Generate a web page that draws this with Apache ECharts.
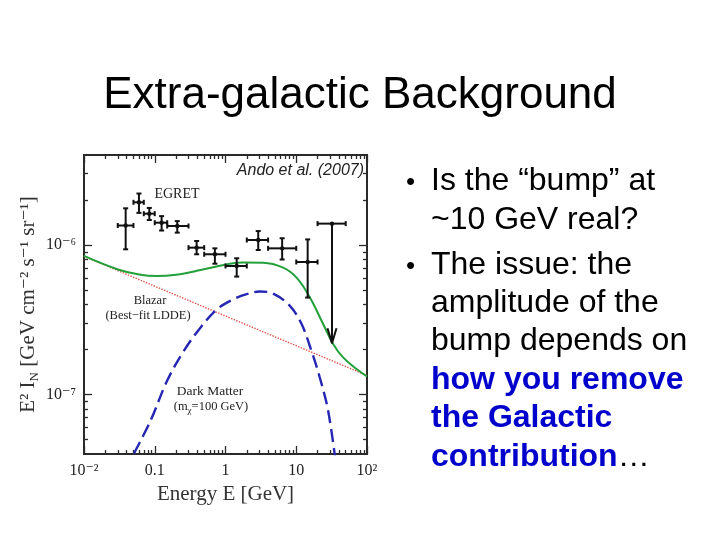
<!DOCTYPE html>
<html>
<head>
<meta charset="utf-8">
<script src="https://cdn.jsdelivr.net/npm/echarts@6/dist/echarts.min.js"></script>
<style>html,body{margin:0;padding:0;background:#fff}#c{width:720px;height:540px}</style>
</head>
<body>
<div id="c"></div>
<script>
// ---- data ----
const xMajorTicks = [0.01, 0.1, 1, 10, 100];
const xMinorTicks = [0.02,0.03,0.04,0.05,0.06,0.07,0.08,0.09,0.2,0.3,0.4,0.5,0.6,0.7,0.8,0.9,2,3,4,5,6,7,8,9,20,30,40,50,60,70,80,90];
const xTickLabels = ['10⁻²', '0.1', '1', '10', '10²'];
const yMajorTicks = [1e-7, 1e-6];
const yMinorTicks = [5e-8,6e-8,7e-8,8e-8,9e-8,2e-7,3e-7,4e-7,5e-7,6e-7,7e-7,8e-7,9e-7,2e-6,3e-6];
const yTickLabels = ['10⁻⁷', '10⁻⁶'];

// EGRET points
const egretElo = [0.03, 0.05, 0.07, 0.1, 0.15, 0.3, 0.5, 1, 2, 4, 10];
const egretEhi = [0.05, 0.07, 0.1, 0.15, 0.3, 0.5, 1, 2, 4, 10, 20];
const egretE   = [0.0388, 0.0598, 0.0838, 0.125, 0.208, 0.391, 0.708, 1.44, 2.9, 6.32, 14.5];
const egretF   = [1.35e-6, 1.93e-6, 1.62e-6, 1.41e-6, 1.34e-6, 0.96e-6, 0.867e-6, 0.724e-6, 1.08e-6, 0.95e-6, 0.77e-6];
const egretFlo = [0.936e-6, 1.64e-6, 1.47e-6, 1.25e-6, 1.21e-6, 0.867e-6, 0.75e-6, 0.615e-6, 0.926e-6, 0.80e-6, 0.445e-6];
const egretFhi = [1.76e-6, 2.21e-6, 1.77e-6, 1.56e-6, 1.445e-6, 1.064e-6, 0.95e-6, 0.815e-6, 1.24e-6, 1.11e-6, 1.09e-6];
// upper limit: [Elo, Ehi, E, F, arrowTip]
const ulimit = [20, 50, 32, 1.39e-6, 2.2e-7];

// total (green)
const totalE = [0.01, 0.0295, 0.06, 0.108, 0.2, 0.445, 1.15, 1.82, 3.41, 6.53, 10.1, 15.6, 24.0, 33.2, 45.9, 71.1, 100];
const totalF = [8.45e-7, 6.89e-7, 6.35e-7, 6.2e-7, 6.33e-7, 6.8e-7, 7.5e-7, 7.64e-7, 7.62e-7, 7.06e-7, 6.05e-7, 4.46e-7, 2.96e-7, 2.18e-7, 1.77e-7, 1.48e-7, 1.32e-7];
// blazar (red dotted)
const blazarE = [0.01, 0.1, 1, 10, 100];
const blazarF = [8.4e-7, 5.3e-7, 3.35e-7, 2.12e-7, 1.34e-7];
// dark matter (blue dashed)
const dmE = [0.0508, 0.0875, 0.150, 0.258, 0.445, 0.764, 1.315, 1.99, 3.06, 4.72, 8.13, 11.9, 16.4, 21.5, 28.2, 36.3];
const dmF = [4.03e-8, 6.71e-8, 1.24e-7, 1.96e-7, 2.81e-7, 3.73e-7, 4.35e-7, 4.69e-7, 4.89e-7, 4.73e-7, 3.92e-7, 2.96e-7, 1.96e-7, 1.30e-7, 7.82e-8, 3.47e-8];

// ---- chart ----
const SERIF = '"Liberation Serif", "DejaVu Serif", serif';
const SANS = '"Liberation Sans", Arial, sans-serif';
const FRAME = '#2a2a2a';

function zip(a, b) { return a.map((v, i) => [v, b[i]]); }
function labelFor(ticks, labels) {
  return function (v) {
    for (let i = 0; i < ticks.length; i++) {
      if (Math.abs(Math.log10(v) - Math.log10(ticks[i])) < 1e-6) return labels[i];
    }
    return '';
  };
}

function xAxisDef(pos, major, withLabel) {
  return {
    type: 'log', logBase: 10, min: 0.01, max: 100, position: pos,
    axisLine: { show: true, onZero: false, lineStyle: { color: FRAME, width: 2 } },
    axisTick: { show: true, inside: true, length: major ? 8 : 4,
      customValues: major ? xMajorTicks : xMinorTicks,
      lineStyle: { color: FRAME, width: 1.3 } },
    axisLabel: withLabel ? { show: true, customValues: xMajorTicks, formatter: labelFor(xMajorTicks, xTickLabels),
      fontFamily: SERIF, fontSize: 16, color: '#222', margin: 9 } : { show: false },
    splitLine: { show: false }, minorTick: { show: false }, minorSplitLine: { show: false }
  };
}
function yAxisDef(pos, major, withLabel) {
  return {
    type: 'log', logBase: 10, min: 4e-8, max: 4e-6, position: pos,
    axisLine: { show: true, onZero: false, lineStyle: { color: FRAME, width: 2 } },
    axisTick: { show: true, inside: true, length: major ? 8 : 4,
      customValues: major ? yMajorTicks : yMinorTicks,
      lineStyle: { color: FRAME, width: 1.3 } },
    axisLabel: withLabel ? { show: true, customValues: yMajorTicks, formatter: labelFor(yMajorTicks, yTickLabels),
      fontFamily: SERIF, fontSize: 16, color: '#222', margin: 8 } : { show: false },
    splitLine: { show: false }, minorTick: { show: false }, minorSplitLine: { show: false }
  };
}

const xMain = xAxisDef('bottom', true, true);
xMain.name = 'Energy E [GeV]';
xMain.nameLocation = 'middle';
xMain.nameGap = 27;
xMain.nameTextStyle = { fontFamily: SERIF, fontSize: 21, color: '#333' };

const yMain = yAxisDef('left', true, true);
yMain.name = '{n|E² I}{s|N}{n| [GeV cm⁻² s⁻¹ sr⁻¹]}';
yMain.nameLocation = 'middle';
yMain.nameRotate = 90;
yMain.nameGap = 43;
yMain.nameTextStyle = {
  fontFamily: SERIF, fontSize: 21, color: '#333',
  rich: {
    n: { fontFamily: SERIF, fontSize: 21, color: '#333', lineHeight: 26 },
    s: { fontFamily: SERIF, fontSize: 13, color: '#333', lineHeight: 26, verticalAlign: 'bottom' }
  }
};

const egretData = egretE.map((e, i) => [egretElo[i], egretEhi[i], e, egretFlo[i], egretF[i], egretFhi[i]]);

function lineEl(a, b, style) {
  return { type: 'line', shape: { x1: a[0], y1: a[1], x2: b[0], y2: b[1] }, style: style };
}

const option = {
  animation: false,
  backgroundColor: '#fff',
  grid: { left: 84, top: 155, width: 283, height: 299, containLabel: false, outerBoundsMode: 'none' },
  xAxis: [xMain, xAxisDef('bottom', false, false), xAxisDef('top', true, false), xAxisDef('top', false, false)],
  yAxis: [yMain, yAxisDef('left', false, false), yAxisDef('right', true, false), yAxisDef('right', false, false)],
  series: [
    { type: 'line', name: 'Blazar', data: zip(blazarE, blazarF), showSymbol: false, smooth: false,
      lineStyle: { color: '#e0504a', width: 1.4, type: 'dotted' }, z: 2 },
    { type: 'line', name: 'Dark Matter', data: zip(dmE, dmF), showSymbol: false, smooth: 0.35,
      lineStyle: { color: '#2626b4', width: 2.4, type: [13, 6] }, z: 3 },
    { type: 'line', name: 'Total', data: zip(totalE, totalF), showSymbol: false, smooth: 0.4,
      lineStyle: { color: '#22a03a', width: 2 }, z: 4 },
    { type: 'custom', name: 'EGRET', data: egretData, z: 5,
      renderItem: function (params, api) {
        const xl = api.value(0), xh = api.value(1), xc = api.value(2);
        const yl = api.value(3), yc = api.value(4), yh = api.value(5);
        const pL = api.coord([xl, yc]), pR = api.coord([xh, yc]), pC = api.coord([xc, yc]);
        const pB = api.coord([xc, yl]), pT = api.coord([xc, yh]);
        const st = { stroke: '#111', lineWidth: 2 };
        const c = 2.5;
        return { type: 'group', children: [
          lineEl(pL, pR, st), lineEl(pB, pT, st),
          lineEl([pL[0], pL[1] - c], [pL[0], pL[1] + c], st),
          lineEl([pR[0], pR[1] - c], [pR[0], pR[1] + c], st),
          lineEl([pB[0] - c, pB[1]], [pB[0] + c, pB[1]], st),
          lineEl([pT[0] - c, pT[1]], [pT[0] + c, pT[1]], st),
          { type: 'circle', shape: { cx: pC[0], cy: pC[1], r: 2.2 }, style: { fill: '#111' } }
        ] };
      } },
    { type: 'custom', name: 'EGRET limit', data: [ulimit], z: 5,
      renderItem: function (params, api) {
        const pL = api.coord([api.value(0), api.value(3)]), pR = api.coord([api.value(1), api.value(3)]);
        const pC = api.coord([api.value(2), api.value(3)]), pTip = api.coord([api.value(2), api.value(4)]);
        const st = { stroke: '#111', lineWidth: 2 };
        const c = 2.5;
        return { type: 'group', children: [
          lineEl(pL, pR, st),
          lineEl([pL[0], pL[1] - c], [pL[0], pL[1] + c], st),
          lineEl([pR[0], pR[1] - c], [pR[0], pR[1] + c], st),
          lineEl(pC, pTip, st),
          lineEl([pTip[0] - 4.5, pTip[1] - 15], pTip, st),
          lineEl([pTip[0] + 4.5, pTip[1] - 15], pTip, st),
          { type: 'circle', shape: { cx: pC[0], cy: pC[1], r: 2.2 }, style: { fill: '#111' } }
        ] };
      } }
  ],
  graphic: [
    { type: 'text', x: 360, y: 96, style: { text: 'Extra-galactic Background', font: '44px ' + SANS, fill: '#000', align: 'center', verticalAlign: 'middle' } },
    { type: 'text', x: 364, y: 171, z: 10, style: { text: 'Ando et al. (2007)', font: 'italic 16px ' + SANS, fill: '#222', align: 'right', verticalAlign: 'middle' } },
    { type: 'text', x: 177, y: 194, z: 10, style: { text: 'EGRET', font: '14px ' + SERIF, fill: '#222', align: 'center', verticalAlign: 'middle' } },
    { type: 'text', x: 150, y: 301, z: 10, style: { text: 'Blazar', font: '12.5px ' + SERIF, fill: '#222', align: 'center', verticalAlign: 'middle' } },
    { type: 'text', x: 148, y: 316, z: 10, style: { text: '(Best−fit LDDE)', font: '12.5px ' + SERIF, fill: '#222', align: 'center', verticalAlign: 'middle' } },
    { type: 'text', x: 210, y: 391, z: 10, style: { text: 'Dark Matter', font: '13.5px ' + SERIF, fill: '#222', align: 'center', verticalAlign: 'middle' } },
    { type: 'text', x: 211, y: 407, z: 10, style: { text: '{a|(m}{b|χ}{a|=100 GeV)}', align: 'center', verticalAlign: 'middle',
      rich: { a: { font: '12.5px ' + SERIF, fill: '#222', lineHeight: 16 }, b: { font: '9px ' + SERIF, fill: '#222', lineHeight: 16, verticalAlign: 'bottom' } } } },
    // bullets
    { type: 'text', x: 406, y: 183, style: { text: '•', font: '26px ' + SANS, fill: '#000', align: 'left', verticalAlign: 'middle' } },
    { type: 'text', x: 406, y: 267, style: { text: '•', font: '26px ' + SANS, fill: '#000', align: 'left', verticalAlign: 'middle' } },
    { type: 'text', x: 431, y: 181, style: { text: 'Is the “bump” at', font: '32px ' + SANS, fill: '#000', align: 'left', verticalAlign: 'middle' } },
    { type: 'text', x: 431, y: 220, style: { text: '~10 GeV real?', font: '32px ' + SANS, fill: '#000', align: 'left', verticalAlign: 'middle' } },
    { type: 'text', x: 431, y: 265, style: { text: 'The issue: the', font: '32px ' + SANS, fill: '#000', align: 'left', verticalAlign: 'middle' } },
    { type: 'text', x: 431, y: 303, style: { text: 'amplitude of the', font: '32px ' + SANS, fill: '#000', align: 'left', verticalAlign: 'middle' } },
    { type: 'text', x: 431, y: 341, style: { text: 'bump depends on', font: '32px ' + SANS, fill: '#000', align: 'left', verticalAlign: 'middle' } },
    { type: 'text', x: 431, y: 380, style: { text: 'how you remove', font: 'bold 32px ' + SANS, fill: '#0000CC', align: 'left', verticalAlign: 'middle' } },
    { type: 'text', x: 431, y: 418, style: { text: 'the Galactic', font: 'bold 32px ' + SANS, fill: '#0000CC', align: 'left', verticalAlign: 'middle' } },
    { type: 'text', x: 431, y: 457, style: { text: '{b|contribution}{n|…}', align: 'left', verticalAlign: 'middle',
      rich: { b: { font: 'bold 32px ' + SANS, fill: '#0000CC' }, n: { font: '32px ' + SANS, fill: '#000' } } } }
  ]
};

const chart = echarts.init(document.getElementById('c'), null, { renderer: 'canvas', width: 720, height: 540 });
chart.setOption(option);
</script>
</body>
</html>
